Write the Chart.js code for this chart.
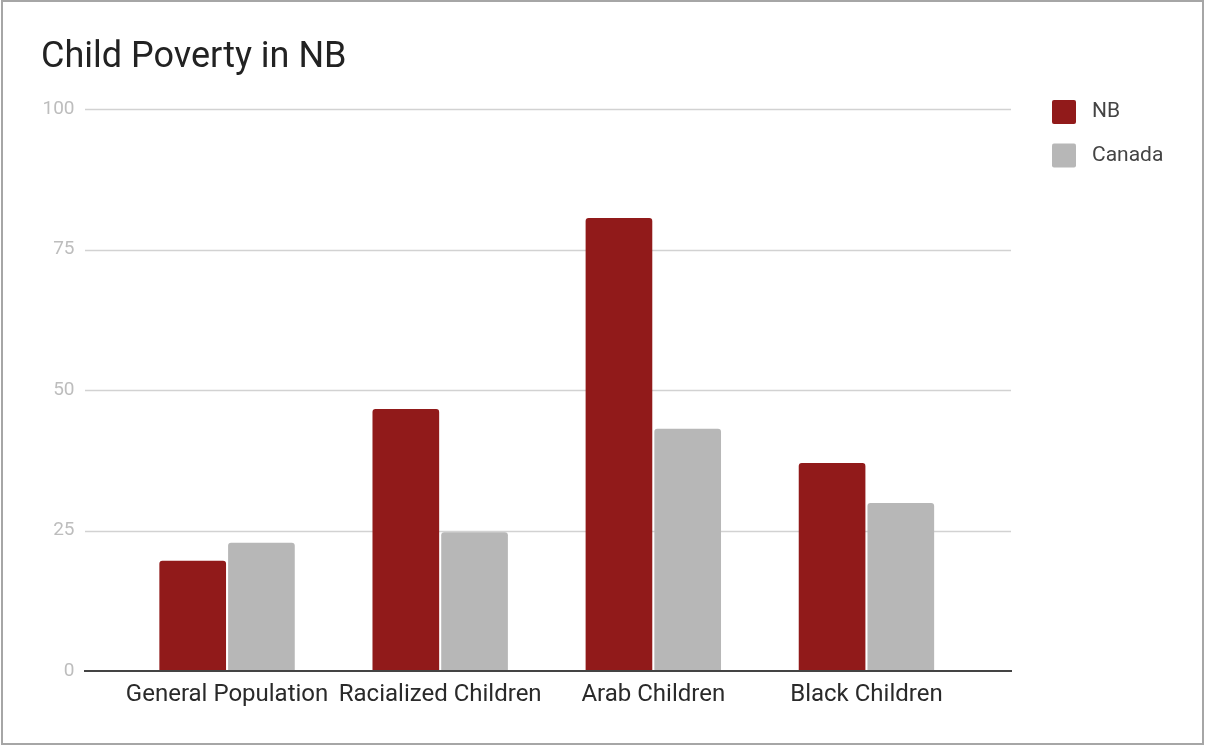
<!DOCTYPE html>
<html>
<head>
<meta charset="utf-8">
<script src="https://cdn.jsdelivr.net/npm/chart.js@4/dist/chart.umd.min.js"></script>
<style>
    body { margin: 0; background: #fff; }
    #wrap { position: relative; width: 1205px; height: 746px; }
    #frame {
        position: absolute; left: 1px; top: 0; width: 1203px; height: 745px;
        border: 2px solid #a6a6a6; box-sizing: border-box; pointer-events: none;
    }
</style>
</head>
<body>
<div id="wrap">
    <canvas id="chart" width="1205" height="746"></canvas>
    <div id="frame"></div>
</div>
<script>
// Chart data
const categories = ['General Population', 'Racialized Children', 'Arab Children', 'Black Children'];
const nbValues = [19.6, 46.6, 80.6, 37.0];
const canadaValues = [22.8, 24.7, 43.1, 29.9];
const yTicks = [0, 25, 50, 75, 100];

const nbColor = '#911a1a';
const canadaColor = '#b7b7b7';

// Horizontal gridlines run wider than the bar area, like the original
const gridPlugin = {
    id: 'wideGrid',
    beforeDatasetsDraw(chart) {
        const ctx = chart.ctx;
        const y = chart.scales.y;
        ctx.save();
        yTicks.forEach(v => {
            if (v === 0) return;
            const py = Math.round(y.getPixelForValue(v)) + 0.5;
            ctx.strokeStyle = '#d2d2d2';
            ctx.lineWidth = 1.5;
            ctx.beginPath();
            ctx.moveTo(85, py);
            ctx.lineTo(1011, py);
            ctx.stroke();
        });
        ctx.restore();
    },
    afterDatasetsDraw(chart) {
        const ctx = chart.ctx;
        const py = chart.scales.y.getPixelForValue(0);
        ctx.save();
        ctx.strokeStyle = '#444';
        ctx.lineWidth = 2;
        ctx.beginPath();
        ctx.moveTo(84, py);
        ctx.lineTo(1012, py);
        ctx.stroke();
        ctx.restore();
    }
};

// Legend on the right, drawn from the datasets
const legendPlugin = {
    id: 'sideLegend',
    afterDraw(chart) {
        const ctx = chart.ctx;
        ctx.save();
        chart.data.datasets.forEach((ds, i) => {
            const top = 100 + i * 43.5;
            ctx.fillStyle = ds.backgroundColor;
            ctx.beginPath();
            ctx.roundRect(1052, top, 24, 24, 2);
            ctx.fill();
            ctx.fillStyle = '#444';
            ctx.font = '21px Roboto';
            ctx.textBaseline = 'middle';
            ctx.textAlign = 'left';
            ctx.fillText(ds.label, 1092, top + 12);
        });
        ctx.restore();
    }
};

new Chart(document.getElementById('chart'), {
    type: 'bar',
    data: {
        labels: categories,
        datasets: [
            {
                label: 'NB',
                data: nbValues,
                backgroundColor: nbColor,
                borderRadius: 3,
                barPercentage: 0.97,
                categoryPercentage: 0.645
            },
            {
                label: 'Canada',
                data: canadaValues,
                backgroundColor: canadaColor,
                borderRadius: 3,
                barPercentage: 0.97,
                categoryPercentage: 0.645
            }
        ]
    },
    options: {
        responsive: false,
        animation: false,
        devicePixelRatio: 1,
        layout: { padding: { left: 41, right: 232, top: 0, bottom: 0 } },
        plugins: {
            legend: { display: false },
            tooltip: { enabled: false },
            title: {
                display: true,
                text: 'Child Poverty in NB',
                align: 'start',
                color: '#222',
                font: { family: 'Roboto', size: 36, weight: 'normal' },
                padding: { top: 36.4, bottom: 29.4 }
            }
        },
        scales: {
            x: {
                grid: { display: false, drawTicks: false },
                border: { display: false },
                ticks: {
                    color: '#2a2a2a',
                    font: { family: 'Roboto', size: 24 },
                    padding: 10,
                    maxRotation: 0,
                    autoSkip: false
                },
                afterFit(scale) { scale.height = 75; }
            },
            y: {
                min: 0,
                max: 100,
                grid: { display: false, drawTicks: false },
                border: { display: false },
                afterBuildTicks(scale) { scale.ticks = yTicks.map(v => ({ value: v })); },
                ticks: {
                    color: '#bdbdbd',
                    font: { family: 'Roboto', size: 19 },
                    padding: 46
                },
                afterFit(scale) { scale.width = 79.5; }
            }
        }
    },
    plugins: [gridPlugin, legendPlugin]
});
</script>
</body>
</html>
